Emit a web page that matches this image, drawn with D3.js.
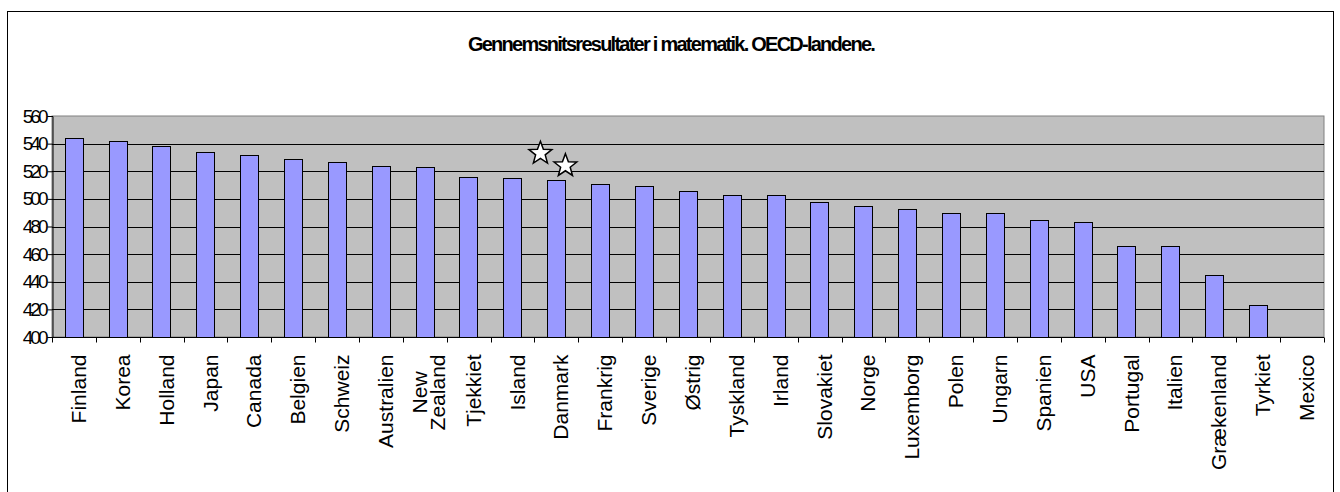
<!DOCTYPE html>
<html>
<head>
<meta charset="utf-8">
<script src="https://cdn.jsdelivr.net/npm/d3@7"></script>
<style>
  body { margin: 0; background: #fff; }
  svg { display: block; font-family: "Liberation Sans", Arial, sans-serif; }
</style>
</head>
<body>
<script>
const countries = ["Finland", "Korea", "Holland", "Japan", "Canada", "Belgien", "Schweiz",
  "Australien", "New Zealand", "Tjekkiet", "Island", "Danmark", "Frankrig", "Sverige",
  "Østrig", "Tyskland", "Irland", "Slovakiet", "Norge", "Luxemborg", "Polen", "Ungarn",
  "Spanien", "USA", "Portugal", "Italien", "Grækenland", "Tyrkiet", "Mexico"];
const scores = [544, 542, 538, 534, 532, 529, 527, 524, 523, 516, 515, 514, 511, 509,
  506, 503, 503, 498, 495, 493, 490, 490, 485, 483, 466, 466, 445, 423, 385];
const yTicks = [400, 420, 440, 460, 480, 500, 520, 540, 560];
const title = "Gennemsnitsresultater i matematik. OECD-landene.";
// the two stars above Danmark (score level of each star)
const starCountry = "Danmark";
const starLevels = [533, 524];

const width = 1340;
const height = 492;
const margin = { left: 52, right: 16, top: 116, bottom: 155 };
const labelSize = 21;

const svg = d3.select("body").append("svg")
  .attr("width", width)
  .attr("height", height);

// outer chart frame
svg.append("rect")
  .attr("x", 7.5).attr("y", 11.5)
  .attr("width", 1326).attr("height", 490)
  .attr("fill", "#fff")
  .attr("stroke", "#000")
  .attr("stroke-width", 1);

svg.append("text")
  .attr("x", 671).attr("y", 51)
  .attr("text-anchor", "middle")
  .attr("font-size", 20)
  .attr("font-weight", "bold")
  .attr("letter-spacing", -1.75)
  .text(title);

const x = d3.scaleBand()
  .domain(countries)
  .range([margin.left, width - margin.right]);

const y = d3.scaleLinear()
  .domain([400, 560])
  .range([height - margin.bottom, margin.top]);

const plot = svg.append("g");

plot.append("rect")
  .attr("x", margin.left).attr("y", margin.top)
  .attr("width", width - margin.right - margin.left)
  .attr("height", y(400) - y(560))
  .attr("fill", "#c0c0c0")
  .attr("stroke", "#808080");

plot.selectAll(".grid")
  .data(yTicks.filter(d => d > 400 && d < 560))
  .enter()
  .append("line")
  .attr("class", "grid")
  .attr("x1", margin.left).attr("x2", width - margin.right)
  .attr("y1", d => Math.round(y(d)) + 0.5)
  .attr("y2", d => Math.round(y(d)) + 0.5)
  .attr("stroke", "#000");

const barW = x.bandwidth() * 0.42;

plot.selectAll(".bar")
  .data(countries.map((c, i) => ({ name: c, value: scores[i] })).filter(d => d.value > 400))
  .enter()
  .append("rect")
  .attr("class", "bar")
  .attr("x", d => Math.round(x(d.name) + (x.bandwidth() - barW) / 2) + 0.5)
  .attr("y", d => Math.round(y(d.value)) + 0.5)
  .attr("width", Math.round(barW))
  .attr("height", d => Math.round(y(400)) - Math.round(y(d.value)))
  .attr("fill", "#9999ff")
  .attr("stroke", "#000")
  .attr("stroke-width", 1);

// y axis
const yAxis = svg.append("g")
  .attr("transform", `translate(${margin.left + 0.5},0)`)
  .call(d3.axisLeft(y).tickValues(yTicks).tickSize(5).tickPadding(2));
yAxis.select(".domain").attr("stroke", "#000");
yAxis.selectAll("text")
  .attr("font-size", 19)
  .attr("letter-spacing", -3)
  .attr("fill", "#000")
  .attr("font-family", "Liberation Sans, Arial, sans-serif");

// x axis: ticks between categories
const xAxisG = svg.append("g")
  .attr("transform", `translate(0,${Math.round(y(400)) + 0.5})`);
xAxisG.append("line")
  .attr("x1", margin.left).attr("x2", width - margin.right)
  .attr("stroke", "#000");
xAxisG.selectAll(".tick")
  .data(countries.concat([null]))
  .enter()
  .append("line")
  .attr("x1", (d, i) => Math.round(margin.left + i * x.step()) + 0.5)
  .attr("x2", (d, i) => Math.round(margin.left + i * x.step()) + 0.5)
  .attr("y1", 0).attr("y2", 5)
  .attr("stroke", "#000");

const labels = xAxisG.selectAll(".lab")
  .data(countries)
  .enter()
  .append("text")
  .attr("class", "lab")
  .attr("font-size", labelSize)
  .attr("fill", "#000")
  .attr("text-anchor", "end")
  .attr("transform", d => `translate(${x(d) + x.bandwidth() / 2 + 12},17) rotate(-90)`);

labels.each(function (d) {
  const parts = d.split(" ");
  const t = d3.select(this);
  if (parts.length === 1) {
    t.text(d);
    return;
  }
  // wrapped label: lines centred on each other
  const spans = parts.map((p, i) => t.append("tspan")
    .attr("dy", i === 0 ? -10 : 18)
    .text(p));
  const longest = d3.max(spans, s => s.node().getComputedTextLength());
  spans.forEach(s => s.attr("text-anchor", "middle").attr("x", -longest / 2));
});

// stars
function starPath(r) {
  const pts = [];
  for (let i = 0; i < 10; i++) {
    const a = -Math.PI / 2 + i * Math.PI / 5;
    const rr = i % 2 === 0 ? r : r * 0.42;
    pts.push([rr * Math.cos(a), rr * Math.sin(a)]);
  }
  return d3.line()(pts) + "Z";
}
const starX = x(starCountry) + x.bandwidth() / 2;
svg.selectAll(".star")
  .data(starLevels)
  .enter()
  .append("path")
  .attr("class", "star")
  .attr("d", starPath(12))
  .attr("transform", (d, i) => `translate(${starX - 16 + i * 25},${y(d)})`)
  .attr("fill", "#fff")
  .attr("stroke", "#000")
  .attr("stroke-width", 1.5)
  .attr("stroke-linejoin", "miter");
</script>
</body>
</html>
